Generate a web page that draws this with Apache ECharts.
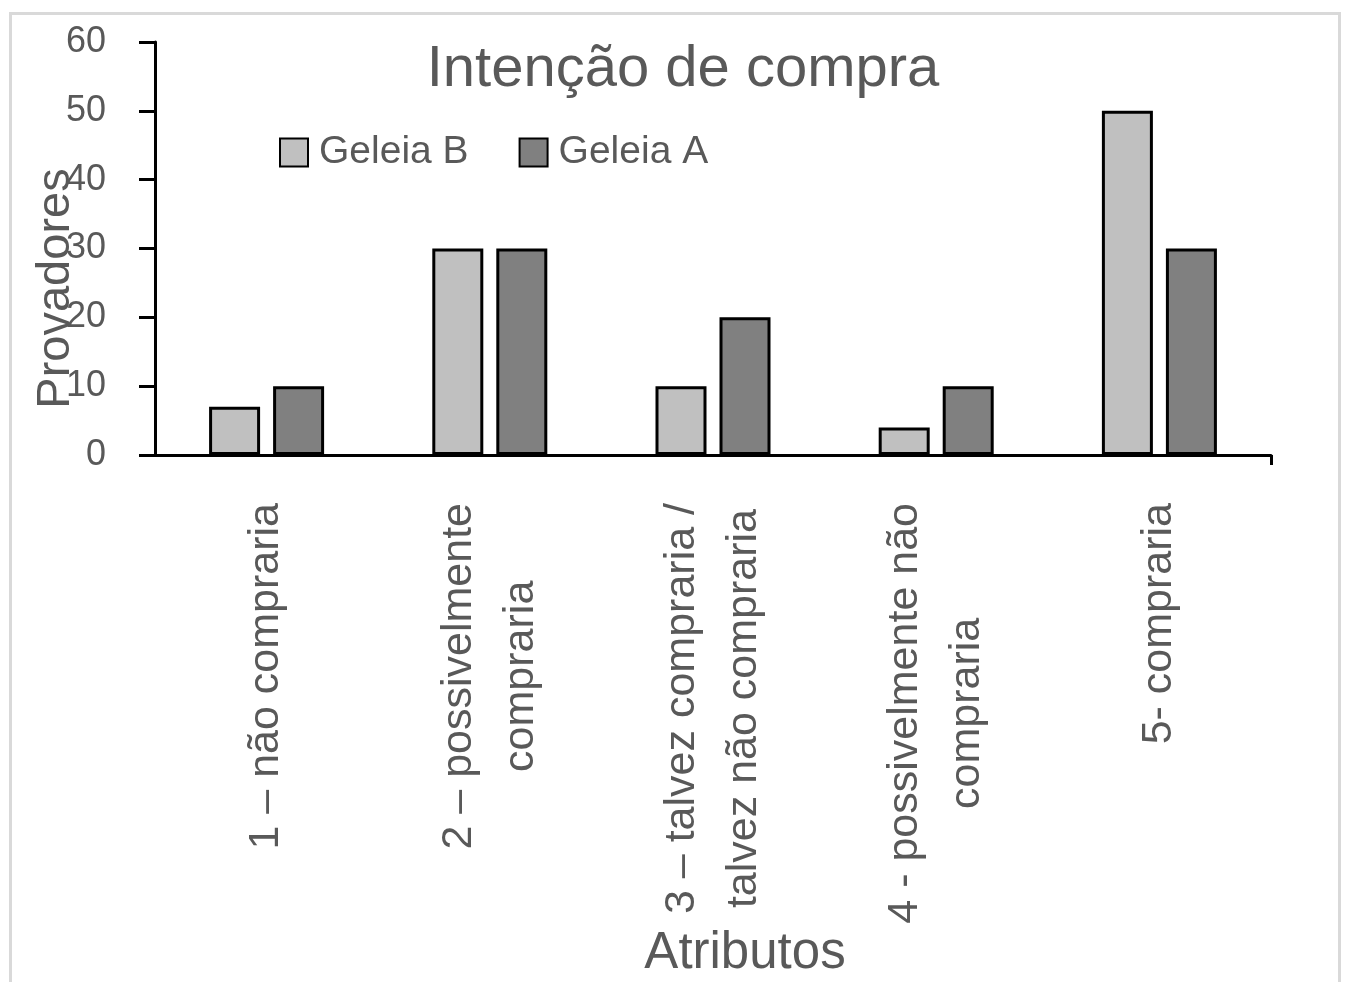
<!DOCTYPE html>
<html>
<head>
<meta charset="utf-8">
<script src="https://cdn.jsdelivr.net/npm/echarts@6/dist/echarts.min.js"></script>
<style>
  html, body { margin: 0; padding: 0; background: #ffffff; }
  #chart { width: 1350px; height: 982px; }
</style>
</head>
<body>
<div id="chart"></div>
<script>
// Purchase-intention scores for two jams
const categories = [
  '1 – não compraria',
  '2 – possivelmente\ncompraria',
  '3 – talvez compraria /\ntalvez não compraria',
  '4 - possivelmente não\ncompraria',
  '5- compraria'
];
const geleiaB = [7, 30, 10, 4, 50];
const geleiaA = [10, 30, 20, 10, 30];
const yTicks = { min: 0, max: 60, interval: 10 };

const TEXT = '#595959';
const FONT = '"Liberation Sans", Arial, sans-serif';

const chart = echarts.init(document.getElementById('chart'), null, { renderer: 'canvas' });

chart.setOption({
  backgroundColor: '#ffffff',
  animation: false,
  title: {
    text: 'Intenção de compra',
    left: 678,
    textAlign: 'center',
    top: 36,
    textStyle: { fontFamily: FONT, fontSize: 58, fontWeight: 'normal', color: TEXT }
  },
  legend: {
    left: 274,
    top: 128,
    itemWidth: 28,
    itemHeight: 28,
    itemGap: 50,
    icon: 'rect',
    data: ['Geleia B', 'Geleia A'],
    textStyle: { fontFamily: FONT, fontSize: 39, color: TEXT, padding: [0, 0, 0, 6] }
  },
  grid: {
    left: 155, right: 79, top: 42, bottom: 527,
    containLabel: false,
    outerBoundsMode: 'none'
  },
  graphic: [{
    type: 'rect',
    shape: { x: 10.5, y: 13.5, width: 1329, height: 990 },
    style: { fill: 'none', stroke: '#d9d9d9', lineWidth: 3 },
    silent: true,
    z: -1
  }],
  xAxis: [{
    type: 'category',
    data: categories,
    boundaryGap: true,
    name: 'Atributos',
    nameLocation: 'middle',
    nameGap: 473,
    nameMoveOverlap: false,
    nameTextStyle: { fontFamily: FONT, fontSize: 51, color: TEXT, padding: [0, 0, 0, 64] },
    axisLine: { lineStyle: { color: '#000', width: 3 } },
    axisTick: { alignWithLabel: true, length: 10, lineStyle: { color: '#000', width: 3 } },
    axisLabel: {
      rotate: 90,
      margin: 48,
      interval: 0,
      formatter: function (v) {
        return v.split('\n').map(function (s) { return '{c|' + s + '}'; }).join('\n');
      },
      rich: {
        c: { align: 'center', fontFamily: FONT, fontSize: 43, lineHeight: 62, color: TEXT }
      }
    }
  }, {
    // closing tick at the right end of the category axis
    type: 'category',
    data: ['', ''],
    boundaryGap: false,
    position: 'bottom',
    axisLine: { show: false },
    axisLabel: { show: false },
    axisTick: {
      length: 10,
      interval: function (i) { return i === 1; },
      lineStyle: { color: '#000', width: 3 }
    }
  }],
  yAxis: {
    type: 'value',
    min: yTicks.min,
    max: yTicks.max,
    interval: yTicks.interval,
    name: 'Provadores',
    nameLocation: 'middle',
    nameGap: 75,
    nameRotate: 90,
    nameMoveOverlap: false,
    nameTextStyle: { fontFamily: FONT, fontSize: 47, color: TEXT, padding: [0, 80, 0, 0] },
    splitLine: { show: false },
    axisLine: { show: true, lineStyle: { color: '#000', width: 3 } },
    axisTick: { show: true, length: 16, lineStyle: { color: '#000', width: 3 } },
    axisLabel: { margin: 49, fontFamily: FONT, fontSize: 36, color: TEXT }
  },
  series: [{
    name: 'Geleia B',
    type: 'bar',
    data: geleiaB,
    barWidth: 51,
    barGap: '25.5%',
    itemStyle: { color: '#c0c0c0', borderColor: '#000', borderWidth: 3 }
  }, {
    name: 'Geleia A',
    type: 'bar',
    data: geleiaA,
    barWidth: 51,
    barGap: '25.5%',
    itemStyle: { color: '#808080', borderColor: '#000', borderWidth: 3 }
  }]
});
</script>
</body>
</html>
